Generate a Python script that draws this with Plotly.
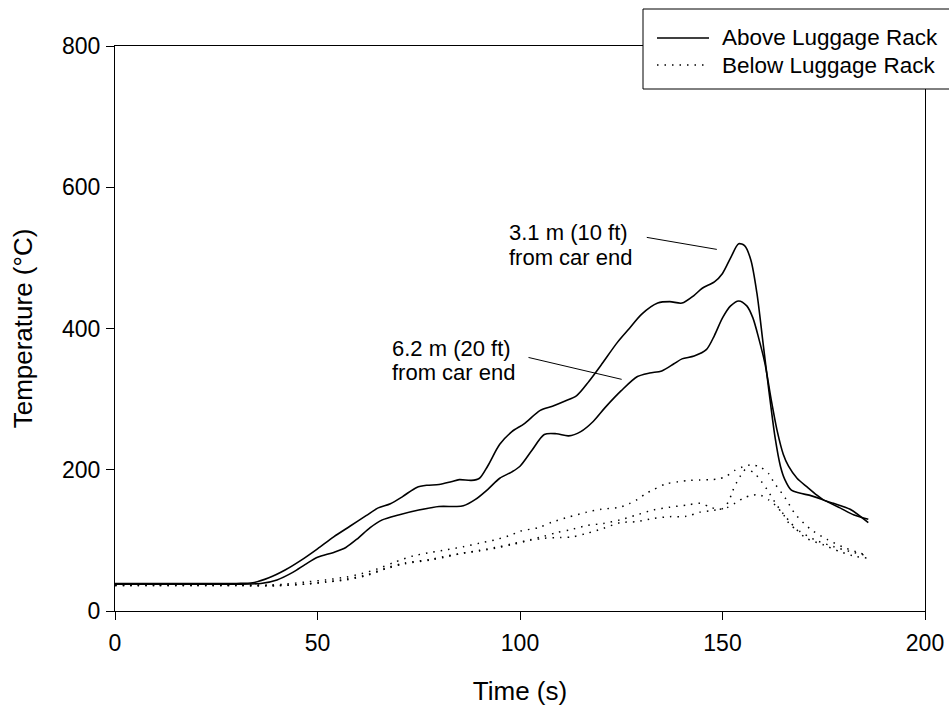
import plotly.graph_objects as go

# ---------------- data ----------------
# Above luggage rack, 3.1 m (10 ft) from car end
t_above_31 = [0, 10, 20, 30, 34, 38, 42, 46, 50, 54, 58, 62, 65, 68, 71, 74.5, 77, 80, 83, 85, 88, 90,
              92, 95, 98, 101, 105, 108, 111, 114, 117, 120, 124, 127, 130, 134, 137, 140, 143, 145,
              148, 150, 152, 154, 155.5, 157, 158.5, 160, 161.5, 163, 164.3, 165.4, 167, 169, 172, 175,
              179, 182.5, 186]
T_above_31 = [39, 39, 39, 39, 40, 47, 58, 72, 88, 105, 120, 135, 146, 152, 162, 175, 178, 179, 183, 186,
              185, 188, 205, 236, 254, 265, 284, 290, 297, 305, 325, 348, 380, 400, 420, 436, 438, 436,
              447, 457, 466, 478, 500, 520, 517, 497, 450, 380, 310, 245, 205, 186, 171, 167, 163, 157,
              146, 136, 130]

# Above luggage rack, 6.2 m (20 ft) from car end
t_above_62 = [0, 10, 20, 30, 36, 40, 44, 47, 50, 54, 57, 60, 63, 66, 70, 75, 80, 84, 86, 89, 92, 95,
              98, 100, 103, 106, 109, 112, 115, 118, 121, 125, 129, 132, 135, 138, 140, 143, 146, 148,
              150, 152, 154, 156, 157.5, 159, 160.5, 162, 163.5, 165, 166.3, 168.4, 170.8, 173.3, 175,
              177.4, 181.5, 186]
T_above_62 = [38, 38, 38, 38, 39, 44, 55, 66, 76, 83, 90, 103, 118, 129, 136, 143, 148, 148, 149, 158,
              172, 188, 197, 205, 228, 250, 251, 248, 254, 268, 288, 312, 332, 337, 340, 350, 357, 361,
              370, 390, 415, 432, 439, 432, 415, 385, 350, 300, 255, 222, 205, 188, 176, 164, 157,
              152.5, 144, 125]

# Below luggage rack (three dotted traces)
t_below_1 = [0, 10, 20, 30, 38, 42, 47, 52, 57, 61, 65, 69, 73.6, 78, 82, 86, 90, 94, 98, 100, 104.5,
             108, 112, 116.5, 120, 124.7, 127, 129, 131, 133, 136, 139, 142, 144.5, 147, 149, 151, 153,
             155, 157, 159.3, 161.5, 162.6, 165.5, 168, 171.7, 175.8, 180, 184, 186]
T_below_1 = [37, 37, 37, 37, 37, 38, 41, 44, 48, 53, 60, 69, 78, 83, 87, 91, 96, 101, 108, 113, 118,
             126, 133, 140, 144, 147, 152, 158, 166, 172, 180, 183, 185, 185.5, 186, 187, 191, 199,
             204, 207, 204, 194, 183, 160, 137, 116, 101.5, 90, 82, 78]

t_below_2 = [0, 10, 20, 30, 40, 47, 52, 57, 62, 67, 71.6, 77.8, 82, 86, 90, 94, 98, 102.5, 106, 110,
             113, 116.5, 120.6, 124.7, 128.8, 133, 137, 141, 144.5, 147, 150, 151.5, 152.5, 153.5,
             154.5, 155.6, 157.7, 159.5, 161, 163.4, 166.6, 170.4, 175, 179, 183, 186]
T_below_2 = [36, 36, 36, 36, 36, 38, 41, 44, 50, 60, 67, 72, 77, 82, 85, 89, 94, 100, 103, 104, 105,
             110, 117, 125, 126.5, 131, 133.6, 134, 140, 142, 145, 155, 170, 182, 192, 200, 196, 184,
             172, 150, 126.5, 104, 93.5, 84, 77, 75]

t_below_3 = [0, 10, 20, 30, 40, 47, 52, 57, 62, 67, 71.6, 77.8, 82, 86, 90, 94, 98, 102.5, 106, 109,
             112.4, 116.5, 120.6, 124.7, 128.8, 132.9, 137, 141.2, 144.5, 147, 149, 151, 153.2, 155.2,
             157.3, 159.3, 161.5, 163, 165.1, 166.7, 169, 172.9, 177.5, 181.6, 186]
T_below_3 = [36, 36, 36, 36, 36, 38, 41, 45, 51, 61, 68, 73, 78, 82, 86, 90, 95, 101, 106, 111, 115,
             121, 124, 129, 136, 143, 147, 150, 152.5, 147, 144, 146, 153, 160, 164, 164, 157, 150, 136,
             122, 113, 100.5, 91, 84, 78]

x_ticks = [0, 50, 100, 150, 200]
y_ticks = [0, 200, 400, 600, 800]
legend_names = ["Above Luggage Rack", "Below Luggage Rack"]
label_31 = ["3.1 m (10 ft)", "from car end"]
label_62 = ["6.2 m (20 ft)", "from car end"]

# ---------------- layout geometry ----------------
W, H = 949, 708
L, R, T, B = 115, 925, 46, 611   # plot area in pixels


def px(x):
    return (x - L) / (R - L)


def py(y):
    return (B - y) / (B - T)


FONT = "Liberation Sans, Arial, sans-serif"
solid = dict(color="black", width=1.6, shape="spline", smoothing=0.8)
dotted = dict(color="black", width=1.5, dash="1.5px,6px", shape="spline", smoothing=0.8)

fig = go.Figure()
fig.add_trace(go.Scatter(x=t_above_31, y=T_above_31, mode="lines", line=solid,
                         name=legend_names[0], showlegend=False))
fig.add_trace(go.Scatter(x=t_above_62, y=T_above_62, mode="lines", line=solid,
                         name=legend_names[0], showlegend=False))
fig.add_trace(go.Scatter(x=t_below_1, y=T_below_1, mode="lines", line=dotted,
                         name=legend_names[1], showlegend=False))
fig.add_trace(go.Scatter(x=t_below_2, y=T_below_2, mode="lines", line=dotted,
                         name=legend_names[1], showlegend=False))
fig.add_trace(go.Scatter(x=t_below_3, y=T_below_3, mode="lines", line=dotted,
                         name=legend_names[1], showlegend=False))

shapes = []
annotations = []

# leader lines for the curve labels
shapes.append(dict(type="line", xref="x", yref="y", x0=131.3, y0=529, x1=148.6, y1=512,
                   line=dict(color="black", width=1)))
shapes.append(dict(type="line", xref="x", yref="y", x0=102.1, y0=359, x1=125.1, y1=328,
                   line=dict(color="black", width=1)))

LBL = 22
PITCH = 25
for i, txt in enumerate(label_31):
    annotations.append(dict(text=txt, xref="paper", yref="paper", x=px(507), y=py(232 + i * PITCH),
                            xanchor="left", yanchor="middle", showarrow=False,
                            font=dict(family=FONT, size=LBL, color="black")))
for i, txt in enumerate(label_62):
    annotations.append(dict(text=txt, xref="paper", yref="paper", x=px(390), y=py(348 + i * PITCH),
                            xanchor="left", yanchor="middle", showarrow=False,
                            font=dict(family=FONT, size=LBL, color="black")))

# manual legend box
shapes.append(dict(type="rect", xref="paper", yref="paper", x0=px(643), x1=px(965), y0=py(89), y1=py(9),
                   line=dict(color="black", width=1), fillcolor="white", layer="above"))
shapes.append(dict(type="line", xref="paper", yref="paper", x0=px(657), x1=px(709), y0=py(38), y1=py(38),
                   line=dict(color="black", width=1.6), layer="above"))
shapes.append(dict(type="line", xref="paper", yref="paper", x0=px(657), x1=px(709), y0=py(65), y1=py(65),
                   line=dict(color="black", width=1.5, dash="1.5px,6px"), layer="above"))
for i, name in enumerate(legend_names):
    annotations.append(dict(text=name, xref="paper", yref="paper", x=px(720), y=py(38 + i * 27),
                            xanchor="left", yanchor="middle", showarrow=False,
                            font=dict(family=FONT, size=22.5, color="black")))

fig.update_layout(
    width=W, height=H,
    margin=dict(l=L, r=W - R, t=T, b=H - B, autoexpand=False),
    paper_bgcolor="white", plot_bgcolor="white",
    font=dict(family=FONT, size=22, color="black"),
    showlegend=False,
    shapes=shapes, annotations=annotations,
)
fig.update_xaxes(range=[0, 200], tickvals=x_ticks, ticks="outside", ticklen=8, tickwidth=1,
                 tickcolor="black", showline=True, linecolor="black", linewidth=1, mirror=True,
                 showgrid=False, zeroline=False, tickfont=dict(size=23), ticklabelstandoff=3,
                 title=dict(text="Time (s)", font=dict(size=26), standoff=27))
fig.update_yaxes(range=[0, 800], tickvals=y_ticks, ticks="outside", ticklen=8, tickwidth=1,
                 tickcolor="black", showline=True, linecolor="black", linewidth=1, mirror=True,
                 showgrid=False, zeroline=False, tickfont=dict(size=23), ticklabelstandoff=1,
                 title=dict(text="Temperature (°C)", font=dict(size=26), standoff=21))

fig.write_html("out.html", config={"displayModeBar": False},
               post_script="document.body.style.margin='0px';")
